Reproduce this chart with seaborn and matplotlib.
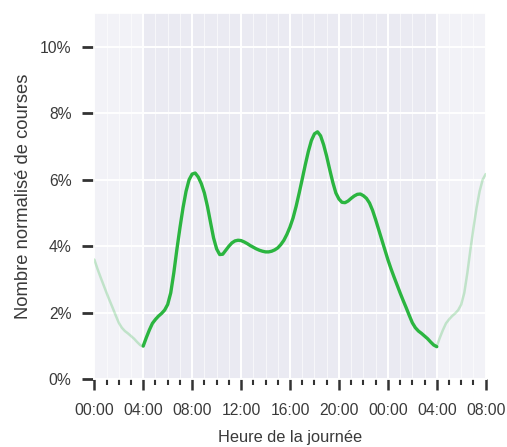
import numpy as np
import pandas as pd
import matplotlib
matplotlib.use("Agg")
import matplotlib.pyplot as plt
import matplotlib.ticker as mtick
import seaborn as sns

# normalised ride count per quarter hour, 04:00 -> 04:00 next day
hours = np.arange(4, 28.01, 0.25)
pct_rides = [1.00, 1.25, 1.48, 1.68, 1.80, 1.90, 1.98, 2.08,   # 04h-06h
             2.25, 2.60, 3.20, 3.90, 4.55, 5.15, 5.65, 6.00,   # 06h-08h
             6.17, 6.20, 6.08, 5.88, 5.60, 5.20, 4.72, 4.25,   # 08h-10h
             3.92, 3.75, 3.76, 3.88, 4.00, 4.10, 4.16, 4.18,   # 10h-12h
             4.17, 4.13, 4.08, 4.02, 3.97, 3.92, 3.88, 3.85,   # 12h-14h
             3.83, 3.83, 3.85, 3.89, 3.95, 4.05, 4.18, 4.36,   # 14h-16h
             4.58, 4.85, 5.20, 5.60, 6.02, 6.45, 6.85, 7.18,   # 16h-18h
             7.38, 7.44, 7.32, 7.05, 6.70, 6.30, 5.92, 5.60,   # 18h-20h
             5.42, 5.32, 5.31, 5.36, 5.44, 5.51, 5.56, 5.57,   # 20h-22h
             5.52, 5.44, 5.30, 5.08, 4.80, 4.50, 4.20, 3.90,   # 22h-00h
             3.60, 3.33, 3.08, 2.84, 2.60, 2.37, 2.15, 1.92,   # 00h-02h
             1.70, 1.55, 1.45, 1.38, 1.30, 1.22, 1.12, 1.03,   # 02h-04h
             0.98]
yticks = [0, 2, 4, 6, 8, 10]
xmajor = [0, 4, 8, 12, 16, 20, 24, 28, 32]

df = pd.DataFrame({'heure': hours, 'pct': pct_rides})
# same curve repeated faded on each side (00:00-04:00 and 04:00-08:00)
left = df[df['heure'] >= 24].assign(heure=lambda d: d['heure'] - 24)
right = df[df['heure'] <= 8].assign(heure=lambda d: d['heure'] + 24)

sns.set_theme(style='darkgrid')
plt.rcParams['font.family'] = ['Liberation Sans', 'DejaVu Sans']
txt = '#3a3a3a'

fig, ax = plt.subplots(figsize=(5.07, 4.47), dpi=100)
fig.subplots_adjust(left=0.186, right=0.958, bottom=0.1515, top=0.970)

green = '#2bb540'
sns.lineplot(data=df, x='heure', y='pct', color=green, lw=2.4, ax=ax, zorder=3)
sns.lineplot(data=left, x='heure', y='pct', color=green, lw=1.8, alpha=0.25, ax=ax, zorder=3)
sns.lineplot(data=right, x='heure', y='pct', color=green, lw=1.8, alpha=0.25, ax=ax, zorder=3)

ax.set_xlim(0, 32)
ax.set_ylim(0, 11)
ax.set_yticks(yticks)
ax.yaxis.set_major_formatter(mtick.PercentFormatter(decimals=0))
ax.set_xticks(xmajor)
ax.xaxis.set_minor_locator(mtick.MultipleLocator(1))
ax.xaxis.set_major_formatter(mtick.FuncFormatter(lambda v, p: '%02d:00' % (int(v) % 24)))

ax.grid(which='major', color='white', lw=1.4)
ax.grid(which='minor', axis='x', color='white', lw=0.7, alpha=0.6)
ax.set_axisbelow(True)

# faded areas outside of the 24h window
ax.axvspan(0, 4, color='white', alpha=0.42, lw=0, zorder=1)
ax.axvspan(28, 32, color='white', alpha=0.42, lw=0, zorder=1)

ax.tick_params(axis='y', which='major', left=True, length=8.5, width=2, color='#333333',
               pad=8, labelsize=11.3, labelcolor=txt)
ax.tick_params(axis='x', which='major', bottom=True, length=8, width=1.8, color='#333333',
               pad=9, labelsize=11.3, labelcolor=txt)
ax.tick_params(axis='x', which='minor', bottom=True, length=4, width=1.5, color='#333333')

ax.set_xlabel('Heure de la journée', fontsize=11.8, color=txt, labelpad=9)
ax.set_ylabel('Nombre normalisé de courses', fontsize=13.2, color=txt, labelpad=6)

plt.savefig('out.png', dpi=100)
